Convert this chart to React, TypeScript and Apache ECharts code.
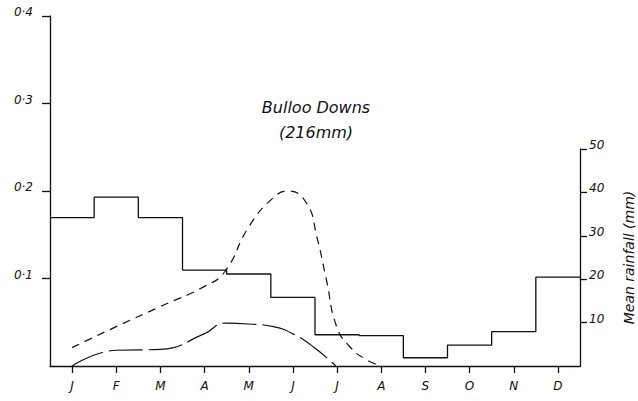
import React, { useEffect, useRef } from "react";
import * as echarts from "echarts";

const months = ["J", "F", "M", "A", "M", "J", "J", "A", "S", "O", "N", "D"];
// Mean monthly rainfall (mm), right axis
const rainfall = [34.2, 38.9, 34.2, 22.1, 21.2, 15.8, 7.2, 7.0, 1.9, 4.8, 7.9, 20.5];
// Curves on the left axis; x in month units (J centre = 0.5)
const upperCurve: [number, number][] = [
  [0.5, 0.021], [1.5, 0.045], [2.5, 0.068], [3.5, 0.091],
  [3.96, 0.108], [4.5, 0.159], [5.05, 0.192],
  [5.39, 0.2], [5.81, 0.186], [6.04, 0.148], [6.26, 0.098], [6.49, 0.045],
  [6.79, 0.022], [7.17, 0.007], [7.51, 0],
];
const lowerCurve: [number, number][] = [
  [0.5, 0], [1.5, 0.018], [2.5, 0.019],
  [3.5, 0.037], [3.96, 0.049], [4.5, 0.048], [5.06, 0.045],
  [5.49, 0.037], [5.96, 0.022], [6.47, 0],
];
const leftTicks = [0.1, 0.2, 0.3, 0.4];
const rightTicks = [10, 20, 30, 40, 50];
const titleLines = ["Bulloo Downs", "(216mm)"];
const rightAxisName = "Mean rainfall (mm)";

const INK = "#111";
const FONT = "DejaVu Sans";

export default function App() {
  const ref = useRef<HTMLDivElement>(null);
  useEffect(() => {
    if (!ref.current) return;
    const chart = echarts.init(ref.current, undefined, { renderer: "svg" });
    const stepData: [number, number][] = rainfall.map((v, i) => [i, v]);
    stepData.push([rainfall.length, rainfall[rainfall.length - 1]]);

    const labelStyle = {
      color: INK,
      fontFamily: FONT,
      fontStyle: "italic",
      fontSize: 12,
    };

    chart.setOption({
      animation: false,
      backgroundColor: "#fff",
      grid: [
        { left: 50, right: 58, top: 16, bottom: 35, containLabel: false, outerBoundsMode: "none" },
        { left: 50, right: 58, top: 149, bottom: 35, containLabel: false, outerBoundsMode: "none" },
      ],
      xAxis: [
        {
          type: "category",
          gridIndex: 0,
          data: months,
          boundaryGap: true,
          axisLine: { show: true, onZero: false, lineStyle: { color: INK, width: 1.3 } },
          axisTick: { show: true, alignWithLabel: true, length: 7, lineStyle: { color: INK, width: 1.3 } },
          axisLabel: { ...labelStyle, margin: 14, interval: 0 },
          splitLine: { show: false },
        },
        { type: "value", gridIndex: 0, min: 0, max: 12, show: false },
        { type: "value", gridIndex: 1, min: 0, max: 12, show: false },
      ],
      yAxis: [
        {
          type: "value",
          gridIndex: 0,
          min: 0,
          max: 0.4,
          interval: 0.1,
          axisLine: { show: true, onZero: false, lineStyle: { color: INK, width: 1.3 } },
          axisTick: { show: true, length: 8, customValues: leftTicks, lineStyle: { color: INK, width: 1.3 } },
          axisLabel: {
            ...labelStyle,
            customValues: leftTicks,
            margin: 17,
            verticalAlign: "bottom",
            lineHeight: 8,
            formatter: (v: number) => v.toFixed(1).replace(".", "·"),
          },
          splitLine: { show: false },
        },
        {
          type: "value",
          gridIndex: 1,
          position: "right",
          min: 0,
          max: 50,
          interval: 10,
          name: rightAxisName,
          nameLocation: "middle",
          nameRotate: 90,
          nameGap: 42,
          nameTextStyle: { ...labelStyle, fontSize: 14 },
          axisLine: { show: true, onZero: false, lineStyle: { color: INK, width: 1.3 } },
          axisTick: { show: true, length: 7, customValues: rightTicks, lineStyle: { color: INK, width: 1.3 } },
          axisLabel: {
            ...labelStyle,
            customValues: rightTicks,
            margin: 9,
            verticalAlign: "bottom",
            lineHeight: 8,
          },
          splitLine: { show: false },
        },
      ],
      graphic: [
        {
          type: "text",
          x: 316,
          y: 107,
          style: {
            text: titleLines[0],
            fill: INK,
            font: `italic 16px "${FONT}"`,
            align: "center",
            verticalAlign: "middle",
          },
        },
        {
          type: "text",
          x: 316,
          y: 132,
          style: {
            text: titleLines[1],
            fill: INK,
            font: `italic 16px "${FONT}"`,
            align: "center",
            verticalAlign: "middle",
          },
        },
      ],
      series: [
        {
          type: "line",
          xAxisIndex: 2,
          yAxisIndex: 1,
          data: stepData,
          step: "end",
          symbol: "none",
          lineStyle: { color: INK, width: 1.3 },
        },
        {
          type: "line",
          xAxisIndex: 1,
          yAxisIndex: 0,
          data: upperCurve,
          smooth: 0.5,
          symbol: "none",
          lineStyle: { color: INK, width: 1.2, type: [8, 6] },
        },
        {
          type: "line",
          xAxisIndex: 1,
          yAxisIndex: 0,
          data: lowerCurve,
          smooth: 0.5,
          symbol: "none",
          lineStyle: { color: INK, width: 1.2, type: [34, 6] },
        },
      ],
    });
    return () => chart.dispose();
  }, []);
  return <div ref={ref} style={{ width: 638, height: 401, position: "absolute", left: 0, top: 0 }} />;
}
